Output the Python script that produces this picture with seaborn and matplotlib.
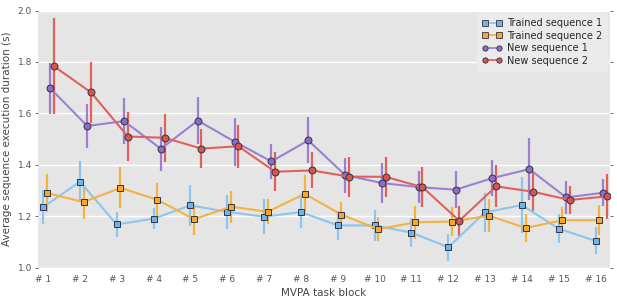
import numpy as np
import pandas as pd
import seaborn as sns
import matplotlib.pyplot as plt
from matplotlib.lines import Line2D

# values
blocks = list(range(1, 17))
tick_labels = ["# %d" % b for b in blocks]
series = ["Trained sequence 1", "Trained sequence 2", "New sequence 1", "New sequence 2"]

trained1 = [1.235, 1.334, 1.168, 1.190, 1.242, 1.217, 1.198, 1.216,
            1.164, 1.164, 1.136, 1.079, 1.215, 1.243, 1.151, 1.104]
trained1_err = [0.067, 0.080, 0.048, 0.040, 0.080, 0.066, 0.067, 0.064,
                0.055, 0.060, 0.057, 0.052, 0.077, 0.110, 0.057, 0.053]
trained2 = [1.290, 1.255, 1.310, 1.264, 1.188, 1.237, 1.217, 1.287,
            1.206, 1.149, 1.176, 1.179, 1.202, 1.154, 1.184, 1.184]
trained2_err = [0.075, 0.065, 0.080, 0.065, 0.060, 0.062, 0.048, 0.072,
                0.050, 0.047, 0.065, 0.057, 0.064, 0.054, 0.051, 0.058]
new1 = [1.697, 1.551, 1.570, 1.462, 1.572, 1.490, 1.413, 1.495,
        1.360, 1.329, 1.313, 1.303, 1.348, 1.383, 1.273, 1.291]
new1_err = [0.100, 0.084, 0.090, 0.085, 0.093, 0.093, 0.067, 0.090,
            0.068, 0.076, 0.063, 0.072, 0.070, 0.121, 0.063, 0.053]
new2 = [1.783, 1.682, 1.510, 1.505, 1.463, 1.472, 1.373, 1.378,
        1.354, 1.353, 1.313, 1.182, 1.316, 1.295, 1.263, 1.277]
new2_err = [0.187, 0.118, 0.095, 0.093, 0.077, 0.083, 0.075, 0.070,
            0.078, 0.078, 0.078, 0.059, 0.082, 0.076, 0.053, 0.088]

values = [trained1, trained2, new1, new2]
errors = [trained1_err, trained2_err, new1_err, new2_err]
offsets = [0.0, 0.1, 0.2, 0.3]
line_colors = ["#8CC6EE", "#F5B142", "#9B80D0", "#E0615B"]
face_colors = ["#6DB6E6", "#F4A92E", "#8B6CC6", "#D9534F"]
markers = ["s", "s", "o", "o"]

rows = []
for name, vals, off in zip(series, values, offsets):
    for b, v in zip(blocks, vals):
        rows.append({"block": b + off, "duration": v, "series": name})
df = pd.DataFrame(rows)

sns.set_style("darkgrid", {"axes.facecolor": "#E5E5E5", "grid.color": "white",
                           "xtick.color": "#555555", "ytick.color": "#555555"})
plt.rcParams["font.family"] = ["DejaVu Sans"]

fig, ax = plt.subplots(figsize=(6.17, 3.03), dpi=100)
fig.subplots_adjust(left=0.062, right=0.988, bottom=0.117, top=0.965)

for vals, errs, off, c in zip(values, errors, offsets, line_colors):
    ax.errorbar(np.array(blocks) + off, vals, yerr=errs, fmt="none",
                ecolor=c, elinewidth=1.6, capsize=0, zorder=2)

sns.lineplot(data=df, x="block", y="duration", hue="series", style="series",
             palette=dict(zip(series, line_colors)),
             markers=dict(zip(series, markers)), dashes=False,
             linewidth=1.5, markersize=5, markeredgecolor="#333344",
             markeredgewidth=0.7, ax=ax, zorder=3, legend=False)

# give the markers a slightly deeper face colour than the lines
for line, fc in zip(ax.lines[-4:], face_colors):
    line.set_markerfacecolor(fc)

ax.set_xlim(0.87, 16.38)
ax.set_ylim(1.0, 2.0)
ax.set_xticks(blocks)
ax.set_xticklabels(tick_labels)
ax.set_yticks([1.0, 1.2, 1.4, 1.6, 1.8, 2.0])
ax.grid(axis="x", visible=False)
ax.grid(axis="y", color="white", linewidth=1.0)
ax.tick_params(axis="both", labelsize=6.5, colors="#555555")
ax.tick_params(axis="y", left=True, right=True, length=2.5, width=0.6,
               direction="out", pad=2)
ax.tick_params(axis="x", bottom=False, pad=2)
ax.set_xlabel("MVPA task block", fontsize=7.5, color="#444444", labelpad=3)
ax.set_ylabel("Average sequence execution duration (s)", fontsize=7.5,
              color="#444444", labelpad=4)
for s in ax.spines.values():
    s.set_visible(False)

handles = [Line2D([0, 1], [0, 0], color=lc, marker=m, markerfacecolor=fc,
                  markeredgecolor="#333344", markeredgewidth=0.6,
                  markersize=3.8, linewidth=1.3)
           for lc, fc, m in zip(line_colors, face_colors, markers)]
ax.legend(handles, series, loc="upper right", fontsize=7, frameon=True,
          facecolor="#EBEBEB", edgecolor="#EBEBEB", framealpha=1,
          numpoints=2, handlelength=2.0, handletextpad=0.5,
          borderpad=0.5, labelspacing=0.25, borderaxespad=0.3)

fig.savefig("out.png", dpi=100)
